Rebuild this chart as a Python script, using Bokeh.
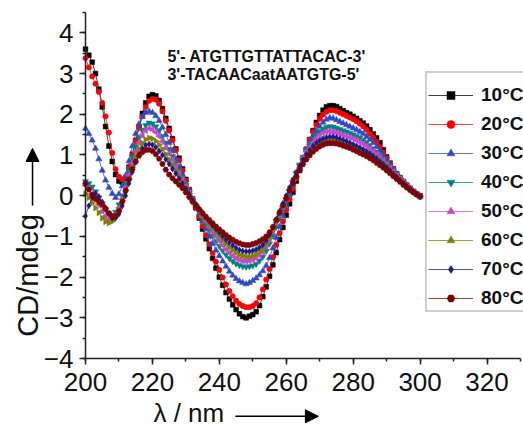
import math
from bokeh.plotting import figure
from bokeh.models import (Range1d, SingleIntervalTicker, Legend, LegendItem, Label,
                          Arrow, NormalHead, LinearAxis)
from bokeh.embed import file_html
from bokeh.resources import INLINE

# ---------------- data ----------------
wavelength = list(range(200, 301))

temperatures = ["10°C", "20°C", "30°C", "40°C", "50°C", "60°C", "70°C", "80°C"]

cd_10 = [3.60, 3.45, 3.28, 3.00, 2.62, 2.18, 1.70, 1.22, 0.84, 0.52,
         0.36, 0.33, 0.42, 0.70, 1.02, 1.36, 1.70, 2.02, 2.28, 2.44,
         2.48, 2.45, 2.34, 2.14, 1.90, 1.65, 1.40, 1.15, 0.92, 0.66,
         0.40, 0.15, -0.08, -0.30, -0.55, -0.82, -1.06, -1.30, -1.54, -1.78,
         -2.00, -2.20, -2.38, -2.54, -2.68, -2.80, -2.90, -2.97, -3.00, -2.96,
         -2.92, -2.85, -2.70, -2.48, -2.24, -1.98, -1.70, -1.40, -1.08, -0.78,
         -0.48, -0.20, 0.08, 0.36, 0.62, 0.88, 1.14, 1.38, 1.60, 1.80,
         1.97, 2.10, 2.18, 2.21, 2.21, 2.19, 2.14, 2.09, 2.04, 2.00,
         1.95, 1.90, 1.84, 1.78, 1.71, 1.62, 1.52, 1.42, 1.30, 1.13,
         0.95, 0.80, 0.66, 0.54, 0.44, 0.35, 0.26, 0.18, 0.10, 0.04, 0.00]

cd_20 = [3.38, 3.15, 2.93, 2.75, 2.55, 2.28, 1.95, 1.55, 1.05, 0.65,
         0.47, 0.40, 0.45, 0.68, 1.00, 1.34, 1.66, 1.95, 2.18, 2.33,
         2.38, 2.36, 2.26, 2.07, 1.84, 1.60, 1.36, 1.12, 0.87, 0.62,
         0.37, 0.13, -0.10, -0.30, -0.52, -0.75, -0.97, -1.19, -1.41, -1.62,
         -1.82, -2.01, -2.18, -2.34, -2.47, -2.58, -2.66, -2.71, -2.74, -2.74,
         -2.71, -2.64, -2.50, -2.30, -2.06, -1.80, -1.51, -1.21, -0.92, -0.63,
         -0.35, -0.09, 0.17, 0.43, 0.68, 0.92, 1.15, 1.37, 1.57, 1.74,
         1.89, 1.99, 2.06, 2.10, 2.10, 2.08, 2.04, 2.00, 1.96, 1.92,
         1.88, 1.83, 1.77, 1.70, 1.62, 1.53, 1.43, 1.32, 1.20, 1.06,
         0.92, 0.78, 0.65, 0.54, 0.44, 0.35, 0.26, 0.18, 0.10, 0.04, -0.01]

cd_30 = [1.65, 1.52, 1.36, 1.16, 0.90, 0.62, 0.38, 0.20, 0.05, -0.05,
         0.04, 0.24, 0.50, 0.85, 1.22, 1.52, 1.76, 1.94, 2.04, 2.07,
         2.04, 1.96, 1.84, 1.68, 1.50, 1.30, 1.10, 0.90, 0.70, 0.50,
         0.30, 0.10, -0.08, -0.26, -0.44, -0.63, -0.82, -1.00, -1.18, -1.34,
         -1.48, -1.61, -1.74, -1.86, -1.96, -2.04, -2.10, -2.14, -2.17, -2.14,
         -2.09, -2.03, -1.95, -1.85, -1.72, -1.53, -1.29, -1.03, -0.76, -0.49,
         -0.23, 0.03, 0.27, 0.50, 0.72, 0.93, 1.12, 1.29, 1.44, 1.58,
         1.70, 1.80, 1.87, 1.91, 1.90, 1.86, 1.82, 1.78, 1.74, 1.70,
         1.66, 1.62, 1.57, 1.52, 1.45, 1.38, 1.30, 1.20, 1.10, 0.98,
         0.86, 0.74, 0.63, 0.52, 0.43, 0.34, 0.26, 0.18, 0.10, 0.04, -0.02]

cd_40 = [0.35, 0.30, 0.22, 0.10, -0.05, -0.20, -0.34, -0.44, -0.47, -0.40,
         -0.22, 0.00, 0.30, 0.62, 0.94, 1.21, 1.44, 1.61, 1.73, 1.79,
         1.77, 1.70, 1.60, 1.46, 1.30, 1.14, 0.97, 0.80, 0.62, 0.44,
         0.26, 0.08, -0.10, -0.25, -0.40, -0.55, -0.70, -0.85, -0.99, -1.12,
         -1.24, -1.35, -1.45, -1.54, -1.61, -1.67, -1.71, -1.74, -1.75, -1.74,
         -1.72, -1.68, -1.60, -1.50, -1.36, -1.18, -0.98, -0.76, -0.55, -0.33,
         -0.12, 0.10, 0.32, 0.55, 0.76, 0.95, 1.12, 1.26, 1.38, 1.49,
         1.58, 1.64, 1.68, 1.70, 1.69, 1.66, 1.63, 1.60, 1.57, 1.54,
         1.50, 1.46, 1.42, 1.37, 1.31, 1.24, 1.16, 1.08, 0.99, 0.90,
         0.80, 0.70, 0.60, 0.50, 0.41, 0.33, 0.25, 0.17, 0.10, 0.04, -0.02]

cd_50 = [0.25, 0.18, 0.05, -0.08, -0.22, -0.38, -0.50, -0.58, -0.57, -0.48,
         -0.30, -0.08, 0.20, 0.50, 0.80, 1.08, 1.30, 1.48, 1.60, 1.65,
         1.63, 1.56, 1.46, 1.33, 1.18, 1.03, 0.88, 0.72, 0.56, 0.40,
         0.23, 0.06, -0.10, -0.24, -0.37, -0.50, -0.63, -0.76, -0.89, -1.00,
         -1.11, -1.22, -1.32, -1.40, -1.47, -1.53, -1.57, -1.60, -1.61, -1.60,
         -1.58, -1.54, -1.47, -1.38, -1.25, -1.08, -0.88, -0.67, -0.47, -0.27,
         -0.06, 0.15, 0.36, 0.57, 0.76, 0.93, 1.08, 1.20, 1.31, 1.41,
         1.49, 1.54, 1.57, 1.58, 1.57, 1.55, 1.52, 1.49, 1.46, 1.43,
         1.40, 1.36, 1.32, 1.27, 1.22, 1.16, 1.09, 1.02, 0.94, 0.86,
         0.77, 0.68, 0.59, 0.50, 0.41, 0.33, 0.25, 0.17, 0.10, 0.04, -0.02]

cd_60 = [0.05, -0.05, -0.18, -0.30, -0.42, -0.55, -0.64, -0.67, -0.63, -0.52,
         -0.35, -0.12, 0.14, 0.42, 0.70, 0.95, 1.15, 1.29, 1.38, 1.42,
         1.40, 1.34, 1.25, 1.14, 1.02, 0.89, 0.76, 0.62, 0.48, 0.34,
         0.20, 0.05, -0.10, -0.22, -0.34, -0.46, -0.58, -0.69, -0.80, -0.90,
         -1.00, -1.10, -1.19, -1.27, -1.34, -1.40, -1.45, -1.48, -1.50, -1.50,
         -1.48, -1.44, -1.38, -1.30, -1.19, -1.04, -0.85, -0.64, -0.44, -0.24,
         -0.04, 0.17, 0.37, 0.56, 0.73, 0.88, 1.00, 1.10, 1.19, 1.26,
         1.31, 1.35, 1.37, 1.38, 1.38, 1.37, 1.35, 1.33, 1.30, 1.27,
         1.24, 1.21, 1.17, 1.13, 1.09, 1.04, 0.98, 0.92, 0.86, 0.79,
         0.71, 0.63, 0.55, 0.47, 0.39, 0.31, 0.24, 0.16, 0.10, 0.04, -0.02]

cd_70 = [-0.50, -0.25, -0.05, 0.05, -0.02, -0.15, -0.30, -0.45, -0.55, -0.55,
         -0.45, -0.25, 0.00, 0.30, 0.58, 0.82, 1.02, 1.16, 1.24, 1.27,
         1.25, 1.19, 1.10, 1.00, 0.89, 0.78, 0.66, 0.54, 0.42, 0.30,
         0.17, 0.04, -0.10, -0.21, -0.32, -0.43, -0.53, -0.63, -0.73, -0.82,
         -0.91, -1.00, -1.08, -1.15, -1.22, -1.28, -1.33, -1.36, -1.37, -1.37,
         -1.35, -1.32, -1.27, -1.20, -1.10, -0.96, -0.78, -0.58, -0.38, -0.19,
         0.00, 0.20, 0.39, 0.57, 0.73, 0.88, 1.01, 1.12, 1.22, 1.30,
         1.36, 1.40, 1.43, 1.45, 1.45, 1.43, 1.40, 1.37, 1.34, 1.30,
         1.26, 1.22, 1.18, 1.13, 1.08, 1.03, 0.97, 0.91, 0.84, 0.77,
         0.70, 0.62, 0.54, 0.46, 0.38, 0.31, 0.23, 0.16, 0.10, 0.04, -0.02]

cd_80 = [0.30, 0.15, 0.02, -0.08, -0.15, -0.22, -0.32, -0.43, -0.52, -0.50,
         -0.38, -0.15, 0.12, 0.40, 0.65, 0.84, 0.98, 1.07, 1.12, 1.13,
         1.10, 1.02, 0.91, 0.78, 0.64, 0.52, 0.43, 0.35, 0.27, 0.18,
         0.08, -0.03, -0.15, -0.25, -0.34, -0.43, -0.52, -0.60, -0.68, -0.76,
         -0.83, -0.90, -0.97, -1.03, -1.08, -1.13, -1.17, -1.20, -1.21, -1.21,
         -1.19, -1.16, -1.12, -1.07, -1.00, -0.90, -0.77, -0.60, -0.42, -0.24,
         -0.06, 0.13, 0.31, 0.48, 0.63, 0.77, 0.89, 0.99, 1.08, 1.15,
         1.21, 1.25, 1.28, 1.29, 1.29, 1.28, 1.26, 1.23, 1.20, 1.17,
         1.13, 1.09, 1.05, 1.01, 0.97, 0.92, 0.87, 0.81, 0.75, 0.69,
         0.62, 0.55, 0.48, 0.41, 0.34, 0.27, 0.20, 0.14, 0.08, 0.03, -0.02]

series = [cd_10, cd_20, cd_30, cd_40, cd_50, cd_60, cd_70, cd_80]

x_axis_bounds = (200, 330)
y_axis_bounds = (-4, 4.5)
x_tick_interval = 20
y_tick_interval = 1

# ---------------- styles ----------------
colors = ["#000000", "#ff0000", "#3048c8", "#008080", "#cc44cc", "#808000", "#1a1a8c", "#800000"]
markers = ["square", "circle", "triangle", "inverted_triangle", "triangle", "triangle", "diamond", "hex"]
angles = [0, 0, 0, 0, math.pi / 2, -math.pi / 2, 0, 0]
sizes = [4.8, 5.3, 6.2, 6.2, 6.2, 6.2, 6.2, 5.8]

FONT = "Liberation Sans"
INK = "#111111"

# The frame spans the whole canvas; the axes are pinned at x=200 / y=-4.
p = figure(width=523, height=427, output_backend="svg", toolbar_location=None,
           x_range=Range1d(174.60, 330.90), y_range=Range1d(-5.695, 4.795),
           x_axis_location=None, y_axis_location=None, min_border=0)
p.outline_line_color = None
p.grid.visible = False
p.background_fill_color = "white"
p.border_fill_color = "white"

xaxis = LinearAxis(fixed_location=y_axis_bounds[0], bounds=x_axis_bounds,
                   ticker=SingleIntervalTicker(interval=x_tick_interval, num_minor_ticks=2))
yaxis = LinearAxis(fixed_location=x_axis_bounds[0], bounds=y_axis_bounds,
                   ticker=SingleIntervalTicker(interval=y_tick_interval, num_minor_ticks=2))
for ax in (xaxis, yaxis):
    ax.axis_line_width = 1.5
    ax.axis_line_color = "#222222"
    ax.major_tick_line_width = 1.5
    ax.minor_tick_line_width = 1.5
    ax.major_tick_line_color = "#222222"
    ax.minor_tick_line_color = "#222222"
    ax.major_tick_out = 6
    ax.major_tick_in = 0
    ax.minor_tick_out = 3
    ax.minor_tick_in = 0
    ax.major_label_text_font = FONT
    ax.major_label_text_font_size = "26px"
    ax.major_label_text_color = INK
xaxis.major_label_standoff = 8
yaxis.major_label_standoff = 6
p.add_layout(xaxis, "below")
p.add_layout(yaxis, "left")

items = []
for i, (vals, lab) in enumerate(zip(series, temperatures)):
    lr = p.line(wavelength, vals, line_color=colors[i], line_width=1, line_alpha=0.75)
    sr = p.scatter(wavelength, vals, marker=markers[i], size=sizes[i], angle=angles[i],
                   fill_color=colors[i], line_color=colors[i], line_width=0.5)
    items.append(LegendItem(label=lab, renderers=[lr, sr]))

legend = Legend(items=items, location=(425, 115), margin=0, padding=1,
                glyph_width=45, glyph_height=20, label_height=20, label_standoff=8,
                spacing=7, label_text_font=FONT, label_text_font_size="19px",
                label_text_font_style="bold", label_text_color=INK,
                border_line_color="#a0a0a0", border_line_width=2,
                background_fill_color="white", background_fill_alpha=1.0,
                title=" ", title_text_font_size="1px", title_standoff=9)
p.add_layout(legend)

# sequence annotation
p.add_layout(Label(x=224.5, y=3.42, text="5'- ATGTTGTTATTACAC-3'", text_font=FONT,
                   text_font_size="16px", text_font_style="bold", text_baseline="middle",
                   text_color=INK))
p.add_layout(Label(x=224.5, y=2.98, text="3'-TACAACaatAATGTG-5'", text_font=FONT,
                   text_font_size="16px", text_font_style="bold", text_baseline="middle",
                   text_color=INK))

# axis titles with arrows
p.add_layout(Label(x=182.67, y=-1.96, text="CD/mdeg", text_font=FONT, text_font_size="29px",
                   angle=math.pi / 2, text_align="center", text_baseline="middle",
                   text_color=INK))
p.add_layout(Arrow(x_start=184.17, y_start=-0.24, x_end=184.17, y_end=1.16, line_width=1.5,
                   end=NormalHead(size=13, fill_color="black", line_color="black")))
p.add_layout(Label(x=220.3, y=-5.35, text="λ / nm", text_font=FONT, text_font_size="26px",
                   text_align="left", text_baseline="middle", text_color=INK))
p.add_layout(Arrow(x_start=244.8, y_start=-5.42, x_end=269.6, y_end=-5.42, line_width=1.5,
                   end=NormalHead(size=13, fill_color="black", line_color="black")))

open("out.html", "w").write(file_html(p, INLINE))
